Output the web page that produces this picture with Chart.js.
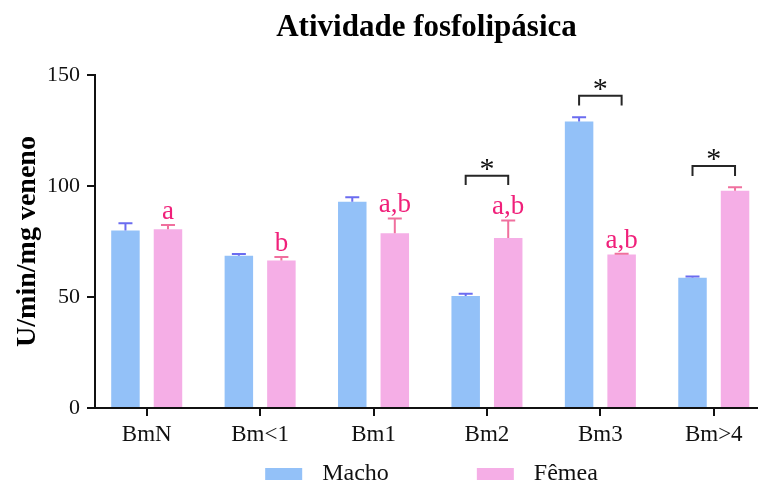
<!DOCTYPE html>
<html>
<head>
<meta charset="utf-8">
<script src="https://cdn.jsdelivr.net/npm/chart.js@4.4.1/dist/chart.umd.min.js"></script>
<style>
  html, body { margin: 0; padding: 0; background: #fff; overflow: hidden; }
  #wrap { width: 758px; height: 484px; position: relative; }
</style>
</head>
<body>
<div id="wrap"><canvas id="c"></canvas></div>
<script>
// Groups and measured phospholipase activity (mean and SEM), U/min/mg venom
const categories = ['BmN', 'Bm<1', 'Bm1', 'Bm2', 'Bm3', 'Bm>4'];
const machoMean = [80.0, 68.6, 92.9, 50.5, 129.0, 58.7];
const machoSem  = [3.2, 0.8, 2.0, 1.0, 2.0, 0.5];
const femeaMean = [80.5, 66.4, 78.7, 76.6, 69.1, 97.9];
const femeaSem  = [1.9, 1.6, 6.7, 7.9, 0.4, 1.5];
// Letters shown over the female bars
const femeaLetters = ['a', 'b', 'a,b', 'a,b', 'a,b', ''];
// Male vs female significance brackets: top of bracket and bottom of its legs
const sigTop    = [null, null, null, 104.6, 140.7, 109.0];
const sigBottom = [null, null, null, 100.4, 136.3, 104.5];
const yTicks = [0, 50, 100, 150];

const SERIF = '"Liberation Serif", "Times New Roman", serif';
const BLUE = '#93c1f8', PINK = '#f5aee6';
const BLUE_ERR = '#6b6cf0', PINK_ERR = '#f0709e';
const LETTER = '#f0207a';

const errorBars = {
  id: 'errorBars',
  afterDatasetsDraw(chart) {
    const ctx = chart.ctx, y = chart.scales.y;
    const sets = [[machoMean, machoSem, BLUE_ERR], [femeaMean, femeaSem, PINK_ERR]];
    sets.forEach(([mean, sem, col], di) => {
      const meta = chart.getDatasetMeta(di);
      meta.data.forEach((bar, i) => {
        const yTop = y.getPixelForValue(mean[i] + sem[i]);
        const yBase = y.getPixelForValue(mean[i]);
        ctx.save();
        ctx.strokeStyle = col;
        ctx.lineWidth = 2;
        ctx.beginPath();
        ctx.moveTo(bar.x, yBase);
        ctx.lineTo(bar.x, yTop);
        ctx.moveTo(bar.x - 7, yTop);
        ctx.lineTo(bar.x + 7, yTop);
        ctx.stroke();
        ctx.restore();
      });
    });
    // letters over female bars
    const fm = chart.getDatasetMeta(1);
    ctx.save();
    ctx.fillStyle = LETTER;
    ctx.font = '27px ' + SERIF;
    ctx.textAlign = 'center';
    ctx.textBaseline = 'alphabetic';
    fm.data.forEach((bar, i) => {
      if (!femeaLetters[i]) return;
      const yTop = y.getPixelForValue(femeaMean[i] + femeaSem[i]);
      ctx.fillText(femeaLetters[i], bar.x, yTop - 6);
    });
    ctx.restore();
    // significance brackets
    const mm = chart.getDatasetMeta(0);
    ctx.save();
    ctx.strokeStyle = '#262626';
    ctx.lineWidth = 2;
    ctx.fillStyle = '#111';
    ctx.font = '30px ' + SERIF;
    ctx.textAlign = 'center';
    ctx.textBaseline = 'alphabetic';
    sigTop.forEach((t, i) => {
      if (t === null) return;
      const x1 = mm.data[i].x, x2 = fm.data[i].x;
      const yt = y.getPixelForValue(t), yb = y.getPixelForValue(sigBottom[i]);
      ctx.beginPath();
      ctx.moveTo(x1, yb);
      ctx.lineTo(x1, yt);
      ctx.lineTo(x2, yt);
      ctx.lineTo(x2, yb);
      ctx.stroke();
      ctx.fillText('*', (x1 + x2) / 2, yt + 2);
    });
    ctx.restore();
  }
};

const titleAndLegend = {
  id: 'titleAndLegend',
  afterDraw(chart) {
    const ctx = chart.ctx, ca = chart.chartArea;
    const cx = (ca.left + ca.right) / 2;
    ctx.save();
    ctx.fillStyle = '#000';
    ctx.font = 'bold 31px ' + SERIF;
    ctx.textAlign = 'center';
    ctx.textBaseline = 'alphabetic';
    ctx.fillText('Atividade fosfolipásica', cx, 36);

    // legend
    ctx.font = '24px ' + SERIF;
    ctx.textAlign = 'left';
    ctx.textBaseline = 'middle';
    const items = [['Macho', BLUE], ['Fêmea', PINK]];
    const boxW = 37, boxH = 12, gap = 20, itemGap = 88;
    let total = 0;
    items.forEach(([t], k) => {
      total += boxW + gap + ctx.measureText(t).width + (k ? 0 : itemGap);
    });
    let x = cx + 5 - total / 2;
    const yMid = 474;
    items.forEach(([t, col]) => {
      ctx.fillStyle = col;
      ctx.fillRect(x, yMid - boxH / 2, boxW, boxH);
      ctx.fillStyle = '#111';
      ctx.fillText(t, x + boxW + gap, yMid);
      x += boxW + gap + ctx.measureText(t).width + itemGap;
    });
    ctx.restore();
  }
};

new Chart(document.getElementById('c'), {
  type: 'bar',
  data: {
    datasets: [
      {
        label: 'Macho',
        data: machoMean.map((v, i) => ({ x: i, y: v })),
        backgroundColor: BLUE,
        borderWidth: 0,
        categoryPercentage: 0.75,
        barPercentage: 0.67
      },
      {
        label: 'Fêmea',
        data: femeaMean.map((v, i) => ({ x: i, y: v })),
        backgroundColor: PINK,
        borderWidth: 0,
        categoryPercentage: 0.75,
        barPercentage: 0.67
      }
    ]
  },
  options: {
    responsive: true,
    maintainAspectRatio: false,
    devicePixelRatio: 1,
    animation: false,
    layout: { padding: { top: 75, right: 0, bottom: 0, left: 0 } },
    plugins: {
      legend: { display: false },
      title: { display: false },
      tooltip: { enabled: false }
    },
    scales: {
      x: {
        type: 'linear',
        offset: false,
        min: -0.456,
        max: 5.39,
        afterBuildTicks(scale) {
          scale.ticks = categories.map((c, i) => ({ value: i }));
        },
        afterFit(scale) { scale.height = 76; },
        ticks: {
          autoSkip: false,
          maxRotation: 0,
          padding: 5,
          color: '#111',
          font: { family: SERIF, size: 23 },
          callback: (v) => categories[v]
        },
        grid: {
          display: true,
          offset: false,
          drawOnChartArea: false,
          drawTicks: true,
          tickLength: 8,
          color: '#111',
          lineWidth: 2
        },
        border: { display: true, color: '#111', width: 2 }
      },
      y: {
        min: 0,
        max: 150,
        afterBuildTicks(scale) {
          scale.ticks = yTicks.map(v => ({ value: v }));
        },
        afterFit(scale) { scale.width = 95; },
        ticks: {
          padding: 7,
          color: '#111',
          font: { family: SERIF, size: 22 }
        },
        grid: {
          display: true,
          drawOnChartArea: false,
          drawTicks: true,
          tickLength: 8,
          color: '#111',
          lineWidth: 2
        },
        border: { display: true, color: '#111', width: 2 },
        title: {
          display: true,
          text: 'U/min/mg veneno',
          color: '#000',
          font: { family: SERIF, size: 28, weight: 'bold' },
          padding: { top: 11, bottom: 0 }
        }
      }
    }
  },
  plugins: [errorBars, titleAndLegend]
});
</script>
</body>
</html>
